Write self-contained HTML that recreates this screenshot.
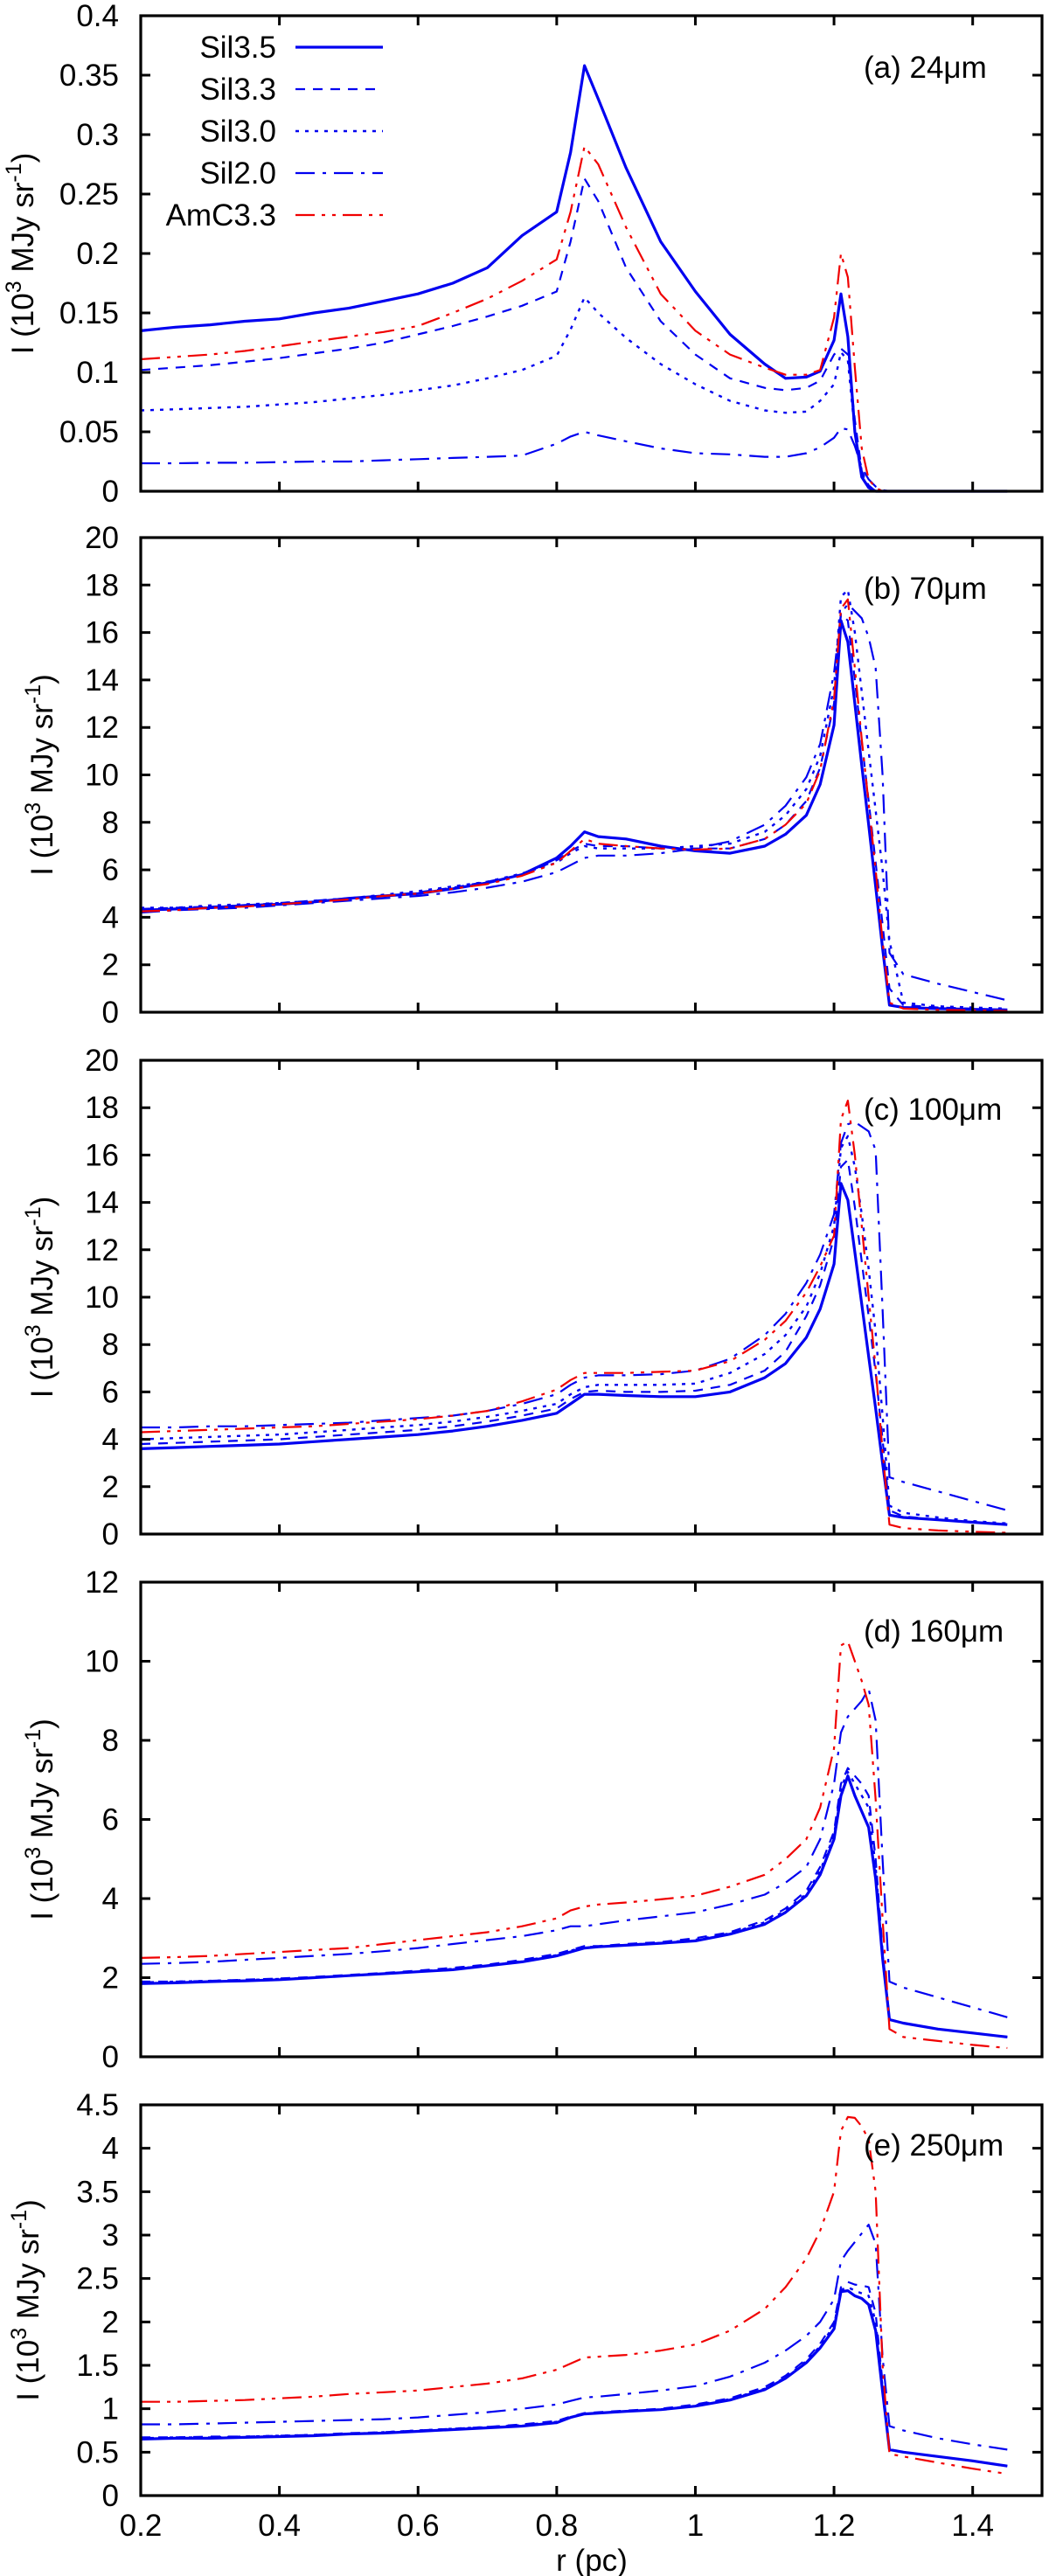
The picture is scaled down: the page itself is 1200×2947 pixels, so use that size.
<!DOCTYPE html>
<html>
<head>
<meta charset="utf-8">
<style>
  html,body{margin:0;padding:0;background:#fff;}
  svg{display:block;}
  text{font-family:"Liberation Sans",Arial,sans-serif;fill:#000;}
</style>
</head>
<body>
<svg id="fig" width="1200" height="2947" viewBox="0 0 1200 2947" xmlns="http://www.w3.org/2000/svg"></svg>
<script>
// ---- data ----
const radii = [0.2,0.25,0.3,0.35,0.4,0.45,0.5,0.55,0.6,0.65,0.7,0.75,0.8,0.82,0.84,0.86,0.9,0.95,1.0,1.05,1.1,1.13,1.16,1.18,1.2,1.21,1.22,1.23,1.24,1.25,1.26,1.27,1.28,1.3,1.35,1.4,1.45];
const seriesNames = ["Sil3.5","Sil3.3","Sil3.0","Sil2.0","AmC3.3"];
const panelLabels = ["(a) 24\u03bcm","(b) 70\u03bcm","(c) 100\u03bcm","(d) 160\u03bcm","(e) 250\u03bcm"];
const xTicks = [0.2,0.4,0.6,0.8,1.0,1.2,1.4];
const xTickLabels = ["0.2","0.4","0.6","0.8","1","1.2","1.4"];
const yMaxes = [0.4,20,20,12,4.5];
const yTickLabelsA = ["0","0.05","0.1","0.15","0.2","0.25","0.3","0.35","0.4"];
const yTickLabelsB = ["0","2","4","6","8","10","12","14","16","18","20"];
const yTickLabelsC = ["0","2","4","6","8","10","12","14","16","18","20"];
const yTickLabelsD = ["0","2","4","6","8","10","12"];
const yTickLabelsE = ["0","0.5","1","1.5","2","2.5","3","3.5","4","4.5"];

// panel (a) 24um
const a_sil35 = [.135,.138,.140,.143,.145,.150,.154,.160,.166,.175,.188,.215,.235,.285,.358,.33,.272,.21,.168,.132,.107,.095,.096,.101,.127,.166,.13,.05,.012,.003,0,0,0,0,0,0,0];
const a_sil33 = [.102,.104,.106,.109,.112,.116,.120,.125,.132,.139,.147,.156,.168,.21,.263,.244,.188,.143,.115,.095,.087,.085,.087,.093,.115,.12,.115,.06,.017,.005,0,0,0,0,0,0,0];
const a_sil30 = [.068,.069,.07,.071,.073,.075,.078,.081,.085,.089,.095,.102,.114,.136,.163,.15,.129,.107,.09,.076,.068,.066,.067,.076,.09,.117,.11,.05,.015,.004,0,0,0,0,0,0,0];
const a_sil20 = [.0235,.0235,.024,.024,.0245,.025,.025,.026,.027,.028,.029,.030,.040,.046,.050,.047,.042,.036,.032,.031,.029,.029,.032,.037,.045,.053,.052,.038,.02,.01,.004,.001,0,0,0,0,0];
const a_amc33 = [.111,.113,.115,.118,.122,.126,.130,.134,.139,.150,.162,.177,.195,.235,.29,.275,.222,.166,.135,.115,.104,.098,.098,.102,.146,.2,.18,.104,.036,.01,.003,0,0,0,0,0,0];
// panel (b) 70um
const b_sil35 = [4.3,4.35,4.4,4.5,4.55,4.65,4.8,4.9,5.0,5.2,5.45,5.8,6.5,7.0,7.6,7.4,7.3,7.0,6.8,6.7,7.0,7.5,8.3,9.6,12.1,16.5,15.6,13.0,10.4,7.9,5.3,2.7,0.3,0.2,0.15,0.12,0.1];
const b_sil33 = [4.35,4.4,4.45,4.5,4.6,4.7,4.8,4.9,5.05,5.25,5.5,5.8,6.4,6.8,7.1,7.0,7.0,6.9,6.9,6.9,7.3,7.9,8.9,10.3,13.0,16.8,16.5,14.0,11.4,8.9,6.3,3.7,1.0,0.3,0.2,0.15,0.1];
const b_sil30 = [4.4,4.4,4.5,4.55,4.6,4.7,4.8,4.95,5.1,5.3,5.5,5.85,6.3,6.7,7.0,6.9,6.9,6.9,7.0,7.1,7.6,8.3,9.4,10.8,13.7,17.5,17.8,16.0,13.5,11.0,8.5,6.0,3.0,0.4,0.25,0.2,0.15];
const b_sil20 = [4.2,4.3,4.35,4.4,4.5,4.6,4.7,4.8,4.9,5.05,5.25,5.5,5.9,6.2,6.5,6.6,6.6,6.7,6.9,7.2,7.9,8.7,9.9,11.3,14.3,16.8,17.2,16.9,16.6,15.8,14.5,10.0,2.5,1.6,1.2,0.85,0.5];
const b_amc33 = [4.25,4.3,4.4,4.45,4.55,4.65,4.75,4.9,5.0,5.2,5.4,5.75,6.3,6.8,7.3,7.1,7.0,6.9,6.85,6.9,7.3,7.9,8.8,10.2,13.2,17.0,17.4,14.5,11.5,8.8,6.0,3.0,0.4,0.15,0.1,0.08,0.05];
// panel (c) 100um
const c_sil35 = [3.6,3.65,3.7,3.75,3.8,3.9,4.0,4.1,4.2,4.35,4.55,4.8,5.1,5.5,5.9,5.9,5.85,5.8,5.8,6.0,6.6,7.2,8.3,9.5,11.4,14.8,14.1,11.9,9.7,7.5,5.3,3.0,0.8,0.7,0.6,0.5,0.4];
const c_sil33 = [3.8,3.85,3.9,3.95,4.0,4.1,4.2,4.3,4.4,4.55,4.75,5.0,5.3,5.7,6.0,6.05,6.0,6.0,6.05,6.3,6.9,7.7,9.2,10.5,12.5,15.5,15.8,13.8,11.5,9.2,6.8,4.0,1.0,0.75,0.6,0.5,0.4];
const c_sil30 = [4.0,4.05,4.1,4.15,4.2,4.3,4.4,4.5,4.6,4.75,4.95,5.2,5.5,5.9,6.2,6.3,6.3,6.3,6.35,6.8,7.6,8.4,9.6,11.0,13.0,16.3,16.8,15.5,13.5,11.2,8.5,5.0,1.2,0.9,0.7,0.55,0.45];
const c_sil20 = [4.5,4.5,4.55,4.55,4.6,4.65,4.7,4.8,4.9,5.0,5.2,5.5,5.9,6.3,6.6,6.7,6.7,6.75,6.9,7.4,8.4,9.3,10.6,11.8,13.5,16.5,17.3,17.4,17.2,17.0,16.2,9.5,2.4,2.2,1.8,1.4,1.0];
const c_amc33 = [4.3,4.35,4.4,4.45,4.5,4.55,4.65,4.75,4.85,5.0,5.2,5.6,6.1,6.5,6.8,6.8,6.8,6.85,6.9,7.3,8.2,9.0,10.2,11.3,12.6,17.5,18.3,16.0,13.0,10.0,7.0,3.5,0.4,0.25,0.15,0.1,0.05];
// panel (d) 160um
const d_sil35 = [1.85,1.87,1.9,1.92,1.95,2.0,2.05,2.1,2.15,2.2,2.3,2.4,2.55,2.65,2.75,2.78,2.82,2.87,2.93,3.1,3.35,3.65,4.07,4.6,5.5,6.6,7.1,6.6,6.2,5.8,4.5,2.5,0.94,0.85,0.7,0.6,0.5];
const d_sil33 = [1.9,1.9,1.92,1.95,1.98,2.02,2.07,2.12,2.18,2.25,2.33,2.45,2.6,2.7,2.8,2.8,2.85,2.9,3.0,3.15,3.45,3.75,4.2,4.8,5.7,6.9,7.3,7.1,6.9,6.6,5.0,2.7,0.95,0.85,0.7,0.6,0.5];
const d_sil30 = [1.88,1.9,1.92,1.94,1.97,2.0,2.05,2.1,2.16,2.22,2.3,2.42,2.57,2.68,2.77,2.79,2.83,2.88,2.96,3.12,3.4,3.7,4.12,4.7,5.6,6.8,7.2,6.9,6.6,6.3,4.8,2.6,0.95,0.85,0.7,0.6,0.5];
const d_sil20 = [2.35,2.37,2.4,2.45,2.5,2.55,2.6,2.67,2.75,2.85,2.95,3.05,3.2,3.3,3.3,3.35,3.45,3.55,3.65,3.85,4.1,4.4,4.8,5.5,6.9,8.2,8.6,8.8,9.0,9.3,8.5,5.0,1.9,1.75,1.5,1.25,1.0];
const d_amc33 = [2.5,2.52,2.55,2.6,2.65,2.7,2.75,2.85,2.95,3.05,3.15,3.3,3.5,3.7,3.8,3.85,3.9,3.98,4.07,4.3,4.6,5.0,5.5,6.3,7.8,10.4,10.5,10.0,9.5,8.9,6.5,3.5,0.7,0.5,0.4,0.3,0.22];
// panel (e) 250um
const e_sil35 = [0.65,0.66,0.66,0.67,0.68,0.69,0.71,0.72,0.74,0.76,0.78,0.8,0.84,0.9,0.94,0.95,0.97,0.99,1.03,1.1,1.22,1.35,1.53,1.7,1.92,2.35,2.36,2.3,2.27,2.2,1.9,1.2,0.53,0.5,0.45,0.4,0.34];
const e_sil33 = [0.67,0.67,0.68,0.68,0.69,0.7,0.72,0.73,0.75,0.77,0.79,0.82,0.86,0.91,0.95,0.96,0.98,1.0,1.05,1.12,1.25,1.38,1.57,1.75,2.0,2.4,2.46,2.43,2.42,2.4,2.1,1.3,0.53,0.5,0.45,0.4,0.34];
const e_sil30 = [0.66,0.67,0.67,0.68,0.69,0.7,0.71,0.73,0.75,0.77,0.79,0.81,0.85,0.9,0.94,0.95,0.97,0.99,1.04,1.11,1.23,1.36,1.55,1.72,1.96,2.37,2.4,2.36,2.33,2.3,2.0,1.25,0.53,0.5,0.45,0.4,0.34];
const e_sil20 = [0.82,0.82,0.83,0.84,0.85,0.86,0.87,0.88,0.9,0.93,0.96,1.0,1.05,1.09,1.13,1.14,1.17,1.21,1.26,1.37,1.53,1.67,1.84,2.0,2.26,2.7,2.82,2.92,3.02,3.12,2.9,1.6,0.8,0.75,0.66,0.59,0.53];
const e_amc33 = [1.08,1.08,1.09,1.1,1.12,1.14,1.17,1.19,1.21,1.25,1.29,1.35,1.45,1.52,1.59,1.6,1.62,1.67,1.74,1.9,2.15,2.4,2.73,3.05,3.5,4.2,4.36,4.35,4.25,4.1,3.5,1.5,0.48,0.45,0.38,0.31,0.25];

// ---- layout / styling ----
const panelData = [
  [a_sil35,a_sil33,a_sil30,a_sil20,a_amc33],
  [b_sil35,b_sil33,b_sil30,b_sil20,b_amc33],
  [c_sil35,c_sil33,c_sil30,c_sil20,c_amc33],
  [d_sil35,d_sil33,d_sil30,d_sil20,d_amc33],
  [e_sil35,e_sil33,e_sil30,e_sil20,e_amc33]
];
const yTickSets = [yTickLabelsA,yTickLabelsB,yTickLabelsC,yTickLabelsD,yTickLabelsE];
const panelTops = [18,615,1213,1810,2408];
const panelBottoms = [562,1158,1755,2353,2855];
const titleX = [38,60,60,60,44];
const labelDy = [59,58,56,56,46];
const styles = [
  {color:"#0000f0", width:3.2, dash:""},
  {color:"#0000f0", width:2.2, dash:"11,9"},
  {color:"#0000f0", width:2.4, dash:"4,7"},
  {color:"#0000f0", width:2.2, dash:"22,9,4,9"},
  {color:"#f00000", width:2.2, dash:"22,8,4,8,4,8"}
];
const styleNames = ["sil35","sil33","sil30","sil20","amc33"];
const X0 = 161, X1 = 1192, RMIN = 0.2, RMAX = 1.5;
const NS = "http://www.w3.org/2000/svg";
const svg = document.getElementById("fig");

function xScale(r){ return X0 + (r - RMIN) / (RMAX - RMIN) * (X1 - X0); }
function makeY(top, bottom, ymax){ return v => bottom - v / ymax * (bottom - top); }
function el(tag, attrs, parent){
  const e = document.createElementNS(NS, tag);
  for (const k in attrs) e.setAttribute(k, attrs[k]);
  (parent || svg).appendChild(e);
  return e;
}

panelData.forEach((series, p) => {
  const top = panelTops[p], bottom = panelBottoms[p], ymax = yMaxes[p];
  const yScale = makeY(top, bottom, ymax);
  const g = el("g", {});
  
  

  // series lines
  series.forEach((vals, s) => {
    const d = vals.map((v, i) => (i ? "L" : "M") + xScale(radii[i]).toFixed(1) + "," + yScale(v).toFixed(1)).join(" ");
    const st = styles[s];
    const path = el("path", {d: d, fill: "none", stroke: st.color, "stroke-width": st.width, "stroke-linejoin": "round"}, g);
    if (st.dash) path.setAttribute("stroke-dasharray", st.dash);
    
    
  });

  // frame
  const frame = el("rect", {x: X0, y: top, width: X1 - X0, height: bottom - top, fill: "none", stroke: "#000", "stroke-width": 3.2}, g);
  
  

  // x ticks
  xTicks.forEach((t, i) => {
    const x = xScale(t);
    const tk = el("path", {d: `M${x},${bottom}v-11M${x},${top}v11`, stroke: "#000", "stroke-width": 3}, g);
    
    
    if (p === 4) {
      const lb = el("text", {x: x, y: bottom + 46, "font-size": 35, "text-anchor": "middle"}, g);
      lb.textContent = xTickLabels[i];
      
      
    }
  });

  // y ticks
  const labels = yTickSets[p];
  const step = ymax / (labels.length - 1);
  labels.forEach((lab, i) => {
    const y = yScale(i * step);
    const tk = el("path", {d: `M${X0},${y}h11M${X1},${y}h-11`, stroke: "#000", "stroke-width": 3}, g);
    
    
    const lb = el("text", {x: 136, y: y + 12, "font-size": 35, "text-anchor": "end"}, g);
    lb.textContent = lab;
    
    
  });

  // y title
  const cy = (top + bottom) / 2;
  const tt = el("text", {x: titleX[p], y: cy, "font-size": 35, "text-anchor": "middle", transform: `rotate(-90 ${titleX[p]} ${cy})`}, g);
  tt.innerHTML = 'I (10<tspan dy="-14" font-size="25">3</tspan><tspan dy="14"> MJy sr</tspan><tspan dy="-14" font-size="25">-1</tspan><tspan dy="14">)</tspan>';
  
  

  // panel label
  const pl = el("text", {x: 988, y: top + labelDy[p] + 12, "font-size": 35}, g);
  pl.textContent = panelLabels[p];
  
  
});

// legend (panel a)
const leg = el("g", {});


seriesNames.forEach((name, s) => {
  const y = 54 + s * 48;
  const st = styles[s];
  const t = el("text", {x: 316, y: y + 12, "font-size": 35, "text-anchor": "end"}, leg);
  t.textContent = name;
  
  
  const ln = el("path", {d: `M338,${y}H438`, stroke: st.color, "stroke-width": st.width, fill: "none"}, leg);
  if (st.dash) ln.setAttribute("stroke-dasharray", st.dash);
  
  
});

// x-axis title
const xt = el("text", {x: 677, y: 2941, "font-size": 35, "text-anchor": "middle"});
xt.textContent = "r (pc)";


</script>
</body>
</html>
